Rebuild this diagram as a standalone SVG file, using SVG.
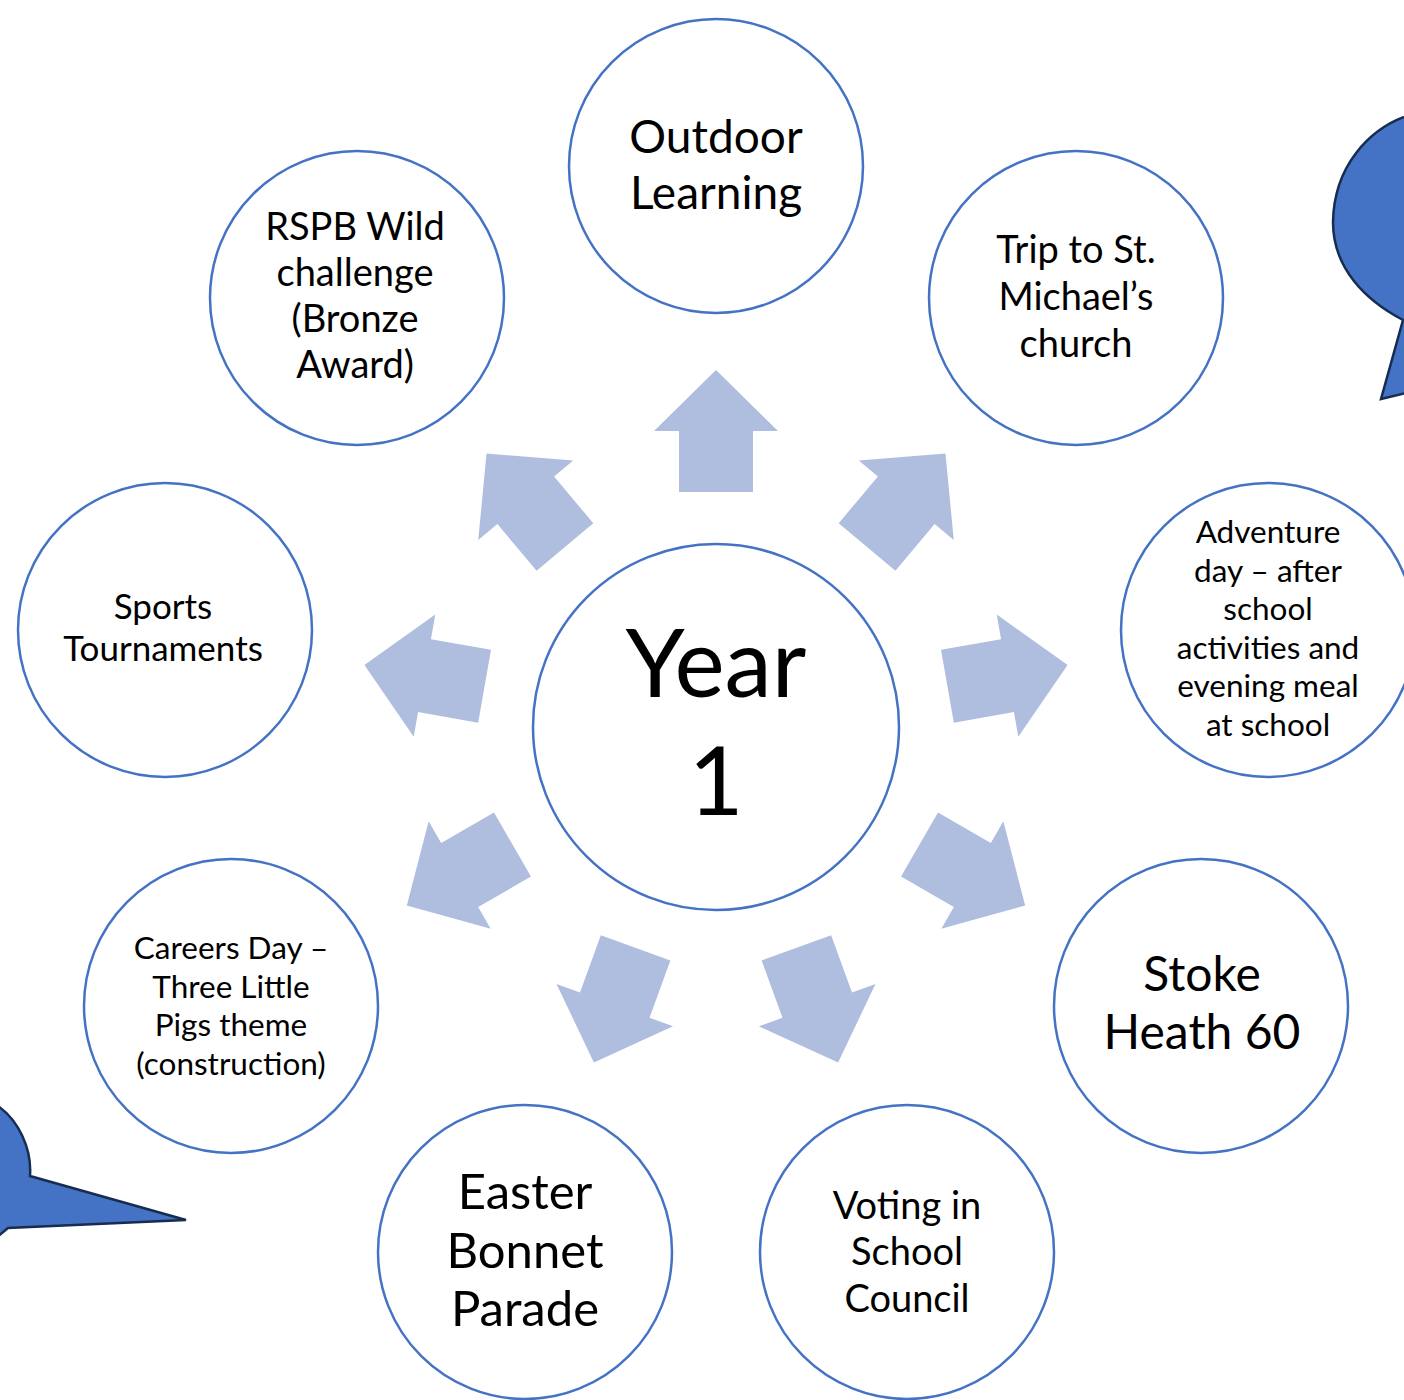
<svg xmlns="http://www.w3.org/2000/svg" width="1404" height="1400" viewBox="0 0 1404 1400">
  <style>
    .node { fill: #FFFFFF; stroke: #4472C4; stroke-width: 2.5; }
    .arrow { fill: #AFBDDF; }
    .bubble { fill: #4472C4; stroke: #172C51; stroke-width: 2.5; stroke-linejoin: miter; }
    text { font-family: "Lato", "Carlito", "Liberation Sans", sans-serif; fill: #000000; text-anchor: middle; }
  </style>
  <defs>
    <!-- block arrow pointing up, base at origin -->
    <polygon id="blockArrow" points="-37,0 37,0 37,-61 62,-61 0,-122 -62,-61 -37,-61"/>
  </defs>

  <rect width="1404" height="1400" fill="#FFFFFF"/>

  <!-- callout shapes at the edges -->
  <g id="callout-right">
    <path class="bubble" d="M1404,117 C1370,130 1334,165 1333,222 C1333,268 1365,300 1403,320 L1381,399 L1406,393"/>
  </g>
  <g id="callout-left">
    <path class="bubble" d="M-2,1106 C18,1120 32,1148 30,1176 L186,1220 L8,1228 L-4,1238"/>
  </g>

  <!-- connectors: arrows radiating from the centre -->
  <g id="connectors" class="arrow">
    <use href="#blockArrow" transform="translate(716,727) rotate(0) translate(0,-235)"/>
    <use href="#blockArrow" transform="translate(716,727) rotate(40) translate(0,-235)"/>
    <use href="#blockArrow" transform="translate(716,727) rotate(80) translate(0,-235)"/>
    <use href="#blockArrow" transform="translate(716,727) rotate(120) translate(0,-235)"/>
    <use href="#blockArrow" transform="translate(716,727) rotate(160) translate(0,-235)"/>
    <use href="#blockArrow" transform="translate(716,727) rotate(200) translate(0,-235)"/>
    <use href="#blockArrow" transform="translate(716,727) rotate(240) translate(0,-235)"/>
    <use href="#blockArrow" transform="translate(716,727) rotate(280) translate(0,-235)"/>
    <use href="#blockArrow" transform="translate(716,727) rotate(320) translate(0,-235)"/>
  </g>

  <g id="year1">
    <circle class="node" cx="716" cy="727" r="183"/>
    <text font-size="95"><tspan x="716" y="697">Year</tspan><tspan x="716" y="815">1</tspan></text>
  </g>

  <g id="outdoor-learning">
    <circle class="node" cx="716" cy="166" r="147"/>
    <text font-size="46"><tspan x="716" y="153">Outdoor</tspan><tspan x="716" y="209">Learning</tspan></text>
  </g>

  <g id="trip-st-michaels">
    <circle class="node" cx="1076" cy="298" r="147"/>
    <text font-size="38"><tspan x="1076" y="263">Trip to St.</tspan><tspan x="1076" y="310">Michael’s</tspan><tspan x="1076" y="357">church</tspan></text>
  </g>

  <g id="adventure-day">
    <circle class="node" cx="1268" cy="630" r="147"/>
    <text font-size="31.5"><tspan x="1268" y="543">Adventure</tspan><tspan x="1268" y="582">day – after</tspan><tspan x="1268" y="620">school</tspan><tspan x="1268" y="659">activities and</tspan><tspan x="1268" y="697">evening meal</tspan><tspan x="1268" y="736">at school</tspan></text>
  </g>

  <g id="stoke-heath">
    <circle class="node" cx="1201" cy="1006" r="147"/>
    <text font-size="48"><tspan x="1202" y="991">Stoke</tspan><tspan x="1202" y="1049">Heath 60</tspan></text>
  </g>

  <g id="voting-school-council">
    <circle class="node" cx="907" cy="1252" r="147"/>
    <text font-size="38"><tspan x="907" y="1219">Voting in</tspan><tspan x="907" y="1265">School</tspan><tspan x="907" y="1312">Council</tspan></text>
  </g>

  <g id="easter-bonnet">
    <circle class="node" cx="525" cy="1252" r="147"/>
    <text font-size="49"><tspan x="525" y="1209">Easter</tspan><tspan x="525" y="1268">Bonnet</tspan><tspan x="525" y="1326">Parade</tspan></text>
  </g>

  <g id="careers-day">
    <circle class="node" cx="231" cy="1006" r="147"/>
    <text font-size="31.5"><tspan x="231" y="959">Careers Day –</tspan><tspan x="231" y="998">Three Little</tspan><tspan x="231" y="1036">Pigs theme</tspan><tspan x="231" y="1075">(construction)</tspan></text>
  </g>

  <g id="sports-tournaments">
    <circle class="node" cx="165" cy="630" r="147"/>
    <text font-size="35"><tspan x="163" y="619">Sports</tspan><tspan x="163" y="661">Tournaments</tspan></text>
  </g>

  <g id="rspb-wild-challenge">
    <circle class="node" cx="357" cy="298" r="147"/>
    <text font-size="38"><tspan x="355" y="240">RSPB Wild</tspan><tspan x="355" y="286">challenge</tspan><tspan x="355" y="332">(Bronze</tspan><tspan x="355" y="378">Award)</tspan></text>
  </g>
</svg>
